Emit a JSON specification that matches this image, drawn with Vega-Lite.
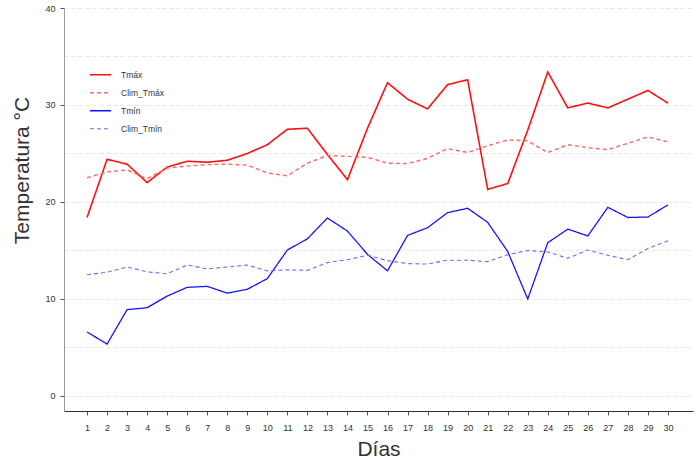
{
  "$schema": "https://vega.github.io/schema/vega-lite/v6.json",
  "width": 629,
  "height": 403,
  "autosize": {"type": "none"},
  "padding": {"left": 64, "top": 8, "right": 5, "bottom": 51},
  "background": "white",
  "config": {
    "view": {"stroke": null},
    "font": "Liberation Sans"
  },
  "datasets": {
    "temp": [
      {"dia": 1, "serie": "Tmáx", "valor": 18.4}, {"dia": 2, "serie": "Tmáx", "valor": 24.4}, {"dia": 3, "serie": "Tmáx", "valor": 23.9},
      {"dia": 4, "serie": "Tmáx", "valor": 22.0}, {"dia": 5, "serie": "Tmáx", "valor": 23.6}, {"dia": 6, "serie": "Tmáx", "valor": 24.2},
      {"dia": 7, "serie": "Tmáx", "valor": 24.1}, {"dia": 8, "serie": "Tmáx", "valor": 24.3}, {"dia": 9, "serie": "Tmáx", "valor": 25.0},
      {"dia": 10, "serie": "Tmáx", "valor": 25.9}, {"dia": 11, "serie": "Tmáx", "valor": 27.5}, {"dia": 12, "serie": "Tmáx", "valor": 27.6},
      {"dia": 13, "serie": "Tmáx", "valor": 24.9}, {"dia": 14, "serie": "Tmáx", "valor": 22.3}, {"dia": 15, "serie": "Tmáx", "valor": 27.6},
      {"dia": 16, "serie": "Tmáx", "valor": 32.3}, {"dia": 17, "serie": "Tmáx", "valor": 30.6}, {"dia": 18, "serie": "Tmáx", "valor": 29.6},
      {"dia": 19, "serie": "Tmáx", "valor": 32.1}, {"dia": 20, "serie": "Tmáx", "valor": 32.6}, {"dia": 21, "serie": "Tmáx", "valor": 21.3},
      {"dia": 22, "serie": "Tmáx", "valor": 21.9}, {"dia": 23, "serie": "Tmáx", "valor": 27.4}, {"dia": 24, "serie": "Tmáx", "valor": 33.4},
      {"dia": 25, "serie": "Tmáx", "valor": 29.7}, {"dia": 26, "serie": "Tmáx", "valor": 30.2}, {"dia": 27, "serie": "Tmáx", "valor": 29.7},
      {"dia": 28, "serie": "Tmáx", "valor": 30.6}, {"dia": 29, "serie": "Tmáx", "valor": 31.5}, {"dia": 30, "serie": "Tmáx", "valor": 30.2},

      {"dia": 1, "serie": "Clim_Tmáx", "valor": 22.5}, {"dia": 2, "serie": "Clim_Tmáx", "valor": 23.1}, {"dia": 3, "serie": "Clim_Tmáx", "valor": 23.3},
      {"dia": 4, "serie": "Clim_Tmáx", "valor": 22.4}, {"dia": 5, "serie": "Clim_Tmáx", "valor": 23.5}, {"dia": 6, "serie": "Clim_Tmáx", "valor": 23.7},
      {"dia": 7, "serie": "Clim_Tmáx", "valor": 23.85}, {"dia": 8, "serie": "Clim_Tmáx", "valor": 23.9}, {"dia": 9, "serie": "Clim_Tmáx", "valor": 23.8},
      {"dia": 10, "serie": "Clim_Tmáx", "valor": 23.0}, {"dia": 11, "serie": "Clim_Tmáx", "valor": 22.7}, {"dia": 12, "serie": "Clim_Tmáx", "valor": 24.0},
      {"dia": 13, "serie": "Clim_Tmáx", "valor": 24.8}, {"dia": 14, "serie": "Clim_Tmáx", "valor": 24.7}, {"dia": 15, "serie": "Clim_Tmáx", "valor": 24.6},
      {"dia": 16, "serie": "Clim_Tmáx", "valor": 24.0}, {"dia": 17, "serie": "Clim_Tmáx", "valor": 23.95}, {"dia": 18, "serie": "Clim_Tmáx", "valor": 24.5},
      {"dia": 19, "serie": "Clim_Tmáx", "valor": 25.5}, {"dia": 20, "serie": "Clim_Tmáx", "valor": 25.1}, {"dia": 21, "serie": "Clim_Tmáx", "valor": 25.8},
      {"dia": 22, "serie": "Clim_Tmáx", "valor": 26.4}, {"dia": 23, "serie": "Clim_Tmáx", "valor": 26.3}, {"dia": 24, "serie": "Clim_Tmáx", "valor": 25.1},
      {"dia": 25, "serie": "Clim_Tmáx", "valor": 25.9}, {"dia": 26, "serie": "Clim_Tmáx", "valor": 25.6}, {"dia": 27, "serie": "Clim_Tmáx", "valor": 25.4},
      {"dia": 28, "serie": "Clim_Tmáx", "valor": 26.05}, {"dia": 29, "serie": "Clim_Tmáx", "valor": 26.7}, {"dia": 30, "serie": "Clim_Tmáx", "valor": 26.2},

      {"dia": 1, "serie": "Tmín", "valor": 6.6}, {"dia": 2, "serie": "Tmín", "valor": 5.35}, {"dia": 3, "serie": "Tmín", "valor": 8.9},
      {"dia": 4, "serie": "Tmín", "valor": 9.1}, {"dia": 5, "serie": "Tmín", "valor": 10.3}, {"dia": 6, "serie": "Tmín", "valor": 11.2},
      {"dia": 7, "serie": "Tmín", "valor": 11.3}, {"dia": 8, "serie": "Tmín", "valor": 10.6}, {"dia": 9, "serie": "Tmín", "valor": 11.0},
      {"dia": 10, "serie": "Tmín", "valor": 12.1}, {"dia": 11, "serie": "Tmín", "valor": 15.05}, {"dia": 12, "serie": "Tmín", "valor": 16.2},
      {"dia": 13, "serie": "Tmín", "valor": 18.35}, {"dia": 14, "serie": "Tmín", "valor": 17.0}, {"dia": 15, "serie": "Tmín", "valor": 14.6},
      {"dia": 16, "serie": "Tmín", "valor": 12.9}, {"dia": 17, "serie": "Tmín", "valor": 16.55}, {"dia": 18, "serie": "Tmín", "valor": 17.35},
      {"dia": 19, "serie": "Tmín", "valor": 18.9}, {"dia": 20, "serie": "Tmín", "valor": 19.35}, {"dia": 21, "serie": "Tmín", "valor": 17.9},
      {"dia": 22, "serie": "Tmín", "valor": 14.9}, {"dia": 23, "serie": "Tmín", "valor": 10.0}, {"dia": 24, "serie": "Tmín", "valor": 15.8},
      {"dia": 25, "serie": "Tmín", "valor": 17.2}, {"dia": 26, "serie": "Tmín", "valor": 16.5}, {"dia": 27, "serie": "Tmín", "valor": 19.45},
      {"dia": 28, "serie": "Tmín", "valor": 18.4}, {"dia": 29, "serie": "Tmín", "valor": 18.45}, {"dia": 30, "serie": "Tmín", "valor": 19.7},

      {"dia": 1, "serie": "Clim_Tmín", "valor": 12.5}, {"dia": 2, "serie": "Clim_Tmín", "valor": 12.75}, {"dia": 3, "serie": "Clim_Tmín", "valor": 13.3},
      {"dia": 4, "serie": "Clim_Tmín", "valor": 12.8}, {"dia": 5, "serie": "Clim_Tmín", "valor": 12.6}, {"dia": 6, "serie": "Clim_Tmín", "valor": 13.5},
      {"dia": 7, "serie": "Clim_Tmín", "valor": 13.1}, {"dia": 8, "serie": "Clim_Tmín", "valor": 13.3}, {"dia": 9, "serie": "Clim_Tmín", "valor": 13.5},
      {"dia": 10, "serie": "Clim_Tmín", "valor": 12.9}, {"dia": 11, "serie": "Clim_Tmín", "valor": 13.0}, {"dia": 12, "serie": "Clim_Tmín", "valor": 12.95},
      {"dia": 13, "serie": "Clim_Tmín", "valor": 13.75}, {"dia": 14, "serie": "Clim_Tmín", "valor": 14.05}, {"dia": 15, "serie": "Clim_Tmín", "valor": 14.5},
      {"dia": 16, "serie": "Clim_Tmín", "valor": 13.95}, {"dia": 17, "serie": "Clim_Tmín", "valor": 13.65}, {"dia": 18, "serie": "Clim_Tmín", "valor": 13.6},
      {"dia": 19, "serie": "Clim_Tmín", "valor": 14.0}, {"dia": 20, "serie": "Clim_Tmín", "valor": 14.0}, {"dia": 21, "serie": "Clim_Tmín", "valor": 13.85},
      {"dia": 22, "serie": "Clim_Tmín", "valor": 14.55}, {"dia": 23, "serie": "Clim_Tmín", "valor": 15.0}, {"dia": 24, "serie": "Clim_Tmín", "valor": 14.85},
      {"dia": 25, "serie": "Clim_Tmín", "valor": 14.2}, {"dia": 26, "serie": "Clim_Tmín", "valor": 15.05}, {"dia": 27, "serie": "Clim_Tmín", "valor": 14.5},
      {"dia": 28, "serie": "Clim_Tmín", "valor": 14.05}, {"dia": 29, "serie": "Clim_Tmín", "valor": 15.2}, {"dia": 30, "serie": "Clim_Tmín", "valor": 16.0}
    ]
  },
  "data": {"name": "temp"},
  "mark": {"type": "line", "strokeCap": "butt", "strokeJoin": "miter"},
  "encoding": {
    "x": {
      "field": "dia",
      "type": "quantitative",
      "scale": {"domain": [-0.15, 31.25], "nice": false, "zero": false},
      "axis": {
        "title": "Días",
        "values": [1,2,3,4,5,6,7,8,9,10,11,12,13,14,15,16,17,18,19,20,21,22,23,24,25,26,27,28,29,30],
        "format": "d",
        "grid": false,
        "domainColor": "#333333",
        "domainWidth": 1,
        "tickColor": "#555555",
        "tickSize": 4,
        "labelFontSize": 9,
        "labelColor": "#333333",
        "labelPadding": 8,
        "titleFontSize": 21,
        "titleFontWeight": "normal",
        "titleColor": "#333333",
        "titlePadding": 6
      }
    },
    "y": {
      "field": "valor",
      "type": "quantitative",
      "scale": {"domain": [-1.55, 40], "nice": false, "zero": false},
      "axis": {
        "title": "Temperatura °C",
        "values": [0, 5, 10, 15, 20, 25, 30, 35, 40],
        "labelExpr": "datum.value % 10 === 0 ? datum.label : ''",
        "grid": true,
        "gridColor": "#e6e6e6",
        "gridDash": [4, 3],
        "gridWidth": 1,
        "domainColor": "#999999",
        "domainWidth": 1,
        "tickColor": "#555555",
        "tickSize": 4,
        "tickOpacity": {"condition": {"test": "datum.value % 10 === 0", "value": 1}, "value": 0},
        "labelFontSize": 9,
        "labelColor": "#333333",
        "labelPadding": 5,
        "titleFontSize": 21,
        "titleFontWeight": "normal",
        "titleColor": "#333333",
        "titlePadding": 12,
        "titleY": 162
      }
    },
    "color": {
      "field": "serie",
      "type": "nominal",
      "sort": ["Tmáx", "Clim_Tmáx", "Tmín", "Clim_Tmín"],
      "scale": {
        "domain": ["Tmáx", "Clim_Tmáx", "Tmín", "Clim_Tmín"],
        "range": ["#ff1010", "#ff6a6a", "#1010ff", "#6a6aff"]
      },
      "legend": {
        "title": null,
        "orient": "none",
        "legendX": 25,
        "legendY": 58,
        "symbolType": "stroke",
        "symbolSize": 441,
        "symbolStrokeWidth": 1.3,
        "clipHeight": 17.5,
        "rowPadding": 0,
        "labelFontSize": 8.5,
        "labelColor": "#333333",
        "labelOffset": 9
      }
    },
    "strokeDash": {
      "field": "serie",
      "type": "nominal",
      "sort": ["Tmáx", "Clim_Tmáx", "Tmín", "Clim_Tmín"],
      "scale": {
        "domain": ["Tmáx", "Clim_Tmáx", "Tmín", "Clim_Tmín"],
        "range": [[1, 0], [4, 3], [1, 0], [4, 3]]
      },
      "legend": null
    },
    "strokeWidth": {
      "field": "serie",
      "type": "nominal",
      "scale": {
        "domain": ["Tmáx", "Clim_Tmáx", "Tmín", "Clim_Tmín"],
        "range": [1.6, 1.1, 1.6, 1.1]
      },
      "legend": null
    }
  }
}
